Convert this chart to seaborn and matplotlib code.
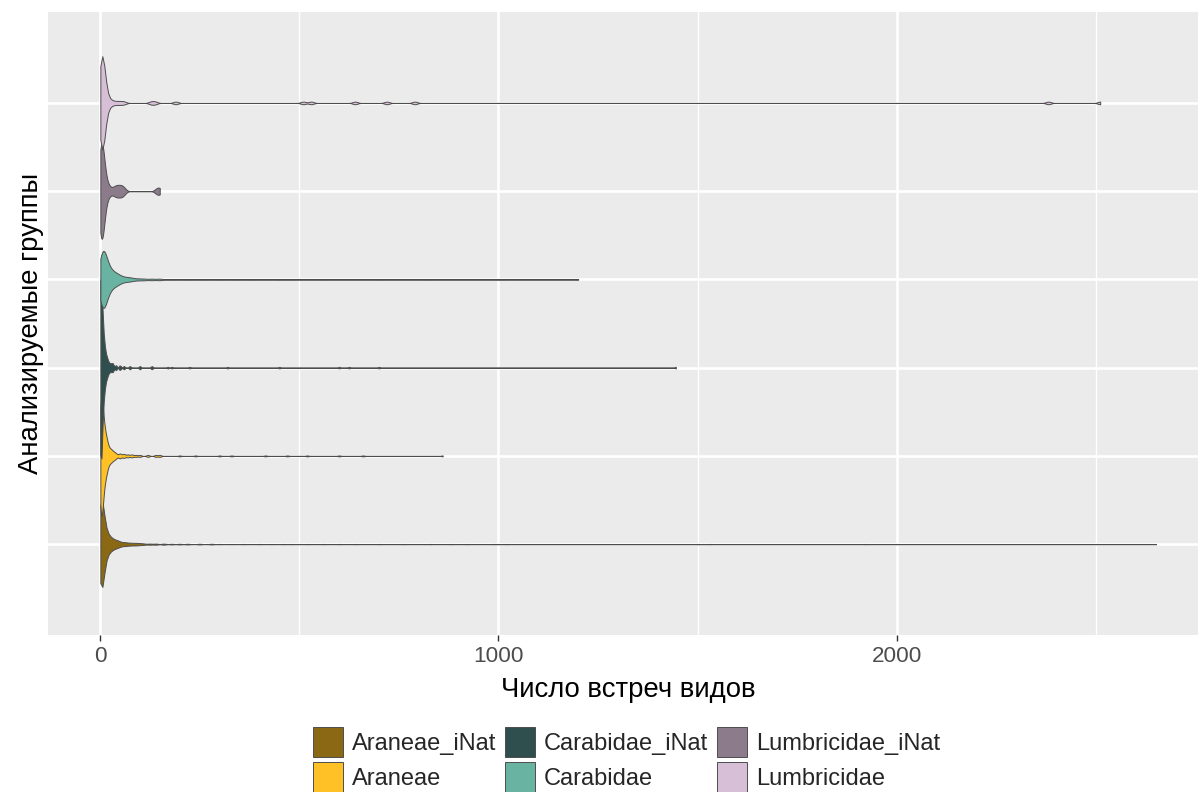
import numpy as np
import pandas as pd
import seaborn as sns
import matplotlib.pyplot as plt
from matplotlib.patches import Patch

# groups in ggplot level order (first one drawn at the bottom)
groups = ["Araneae_iNat", "Araneae", "Carabidae_iNat", "Carabidae",
          "Lumbricidae_iNat", "Lumbricidae"]
colors = ["#8B6914", "#FFC125", "#2F4F4F", "#69B3A2", "#8B7B8B", "#D8BFD8"]

# number of records per species (value) and how many species have it (freq)
araneae_inat_vals = [1, 2, 3, 4, 5, 6, 7, 8, 9, 10, 12, 15, 18, 22, 26, 30, 35, 40, 45, 50,
                     60, 70, 80, 90, 100, 110, 125, 140, 160, 180, 200, 220, 250, 280,
                     300, 330, 360, 400, 430, 460, 480, 520, 560, 600, 640, 700, 760, 830,
                     880, 920, 990, 1020, 1500, 1530, 1920, 2650]
araneae_inat_freq = [60, 40, 30, 25, 20, 18, 15, 14, 12, 12, 20, 18, 15, 14, 12, 10, 10, 8, 7, 7,
                     8, 6, 5, 5, 4, 3, 3, 3, 3, 2, 2, 2, 2, 2,
                     1, 1, 1, 1, 1, 1, 1, 1, 1, 1, 1, 1, 1, 1, 1, 1, 1, 1, 1, 1, 1, 1]

araneae_vals = [1, 2, 3, 4, 5, 6, 7, 8, 9, 10, 12, 14, 16, 18, 20, 25, 30, 35, 40, 50,
                60, 70, 80, 90, 100, 120, 140, 150,
                200, 240, 300, 330, 415, 470, 520, 600, 660, 860]
araneae_freq = [30, 24, 22, 18, 15, 13, 11, 10, 9, 8, 14, 11, 9, 8, 7, 10, 7, 5, 4, 5,
                4, 3, 3, 2, 2, 2, 2, 2,
                1, 1, 1, 1, 1, 1, 1, 1, 1, 1]

carabidae_inat_vals = [1, 2, 3, 4, 5, 6, 7, 8, 9, 10, 12, 14, 17, 20, 25, 30, 33, 40, 50, 60,
                       75, 100, 130, 170, 180, 225, 320, 450, 600, 625, 700, 1445]
carabidae_inat_freq = [50, 30, 22, 18, 14, 12, 10, 9, 8, 7, 10, 8, 7, 6, 5, 4, 3, 3, 3, 2,
                       2, 2, 2, 1, 1, 1, 1, 1, 1, 1, 1, 1]

carabidae_vals = [1, 2, 3, 4, 5, 6, 7, 8, 9, 10, 12, 15, 18, 22, 26, 30, 35, 40, 45, 50,
                  60, 70, 80, 95, 110, 130, 150,
                  180, 220, 260, 300, 340, 380, 450, 480, 560, 700, 820, 1010, 1200]
carabidae_freq = [5, 5, 6, 6, 6, 7, 7, 7, 7, 7, 10, 9, 8, 7, 6, 6, 5, 5, 4, 4,
                  4, 3, 3, 2, 2, 2, 2,
                  1, 1, 1, 1, 1, 1, 1, 1, 1, 1, 1, 1, 1]

lumbricidae_inat_vals = [1, 2, 3, 4, 5, 6, 8, 10, 12, 15, 20, 25, 35, 40, 45, 50, 55, 60, 143, 150]
lumbricidae_inat_freq = [3, 4, 4, 3, 3, 2, 2, 2, 2, 1, 1, 1, 1, 1, 1, 1, 1, 1, 1, 1]

lumbricidae_vals = [1, 2, 3, 4, 5, 6, 7, 8, 9, 10, 12, 14, 16, 20, 25, 30, 40, 50, 60,
                    128, 138, 190, 510, 530, 640, 720, 790, 2380, 2510]
lumbricidae_freq = [4, 4, 4, 4, 4, 4, 3, 3, 3, 3, 2, 2, 2, 1, 1, 1, 1, 1, 1,
                    1, 1, 1, 1, 1, 1, 1, 1, 1, 1]

series = {
    "Araneae_iNat": (araneae_inat_vals, araneae_inat_freq),
    "Araneae": (araneae_vals, araneae_freq),
    "Carabidae_iNat": (carabidae_inat_vals, carabidae_inat_freq),
    "Carabidae": (carabidae_vals, carabidae_freq),
    "Lumbricidae_iNat": (lumbricidae_inat_vals, lumbricidae_inat_freq),
    "Lumbricidae": (lumbricidae_vals, lumbricidae_freq),
}
df = pd.concat([pd.DataFrame({"group": g, "count": np.repeat(v, f)})
                for g, (v, f) in series.items()], ignore_index=True)


def nrd0(kde):
    # R's default bandwidth (bw.nrd0), returned as a factor of the sd
    x = kde.dataset.ravel()
    sd = x.std(ddof=1)
    q1, q3 = np.percentile(x, [25, 75])
    lo = min(sd, (q3 - q1) / 1.34)
    return 0.9 * lo * len(x) ** -0.2 / sd


sns.set_theme(style="white")
plt.rcParams["font.family"] = ["Liberation Sans", "DejaVu Sans"]

fig = plt.figure(figsize=(11.98, 7.92), dpi=100)
ax = fig.add_axes([0.0397, 0.1982, 0.9693, 0.7866])

sns.violinplot(data=df, x="count", y="group", hue="group", order=groups,
               hue_order=groups, palette=dict(zip(groups, colors)), orient="h",
               cut=0, density_norm="area", common_norm=True, bw_method=nrd0,
               gridsize=512, width=2.06, inner=None, saturation=1,
               linecolor="#4d4d4d", linewidth=0.7, legend=False, ax=ax)

ax.set_facecolor("#EBEBEB")
for s in ax.spines.values():
    s.set_visible(False)
ax.set_xlim(-131.5, 2782.5)
ax.set_ylim(-1.03, 6.03)
ax.set_xticks([0, 1000, 2000])
ax.set_xticks([500, 1500, 2500], minor=True)
ax.set_yticks(range(len(groups)), [""] * len(groups))
ax.set_axisbelow(True)
ax.grid(which="major", axis="both", color="white", linewidth=1.9)
ax.grid(which="minor", axis="x", color="white", linewidth=0.95)
ax.tick_params(axis="x", which="major", length=4, width=1, color="#333333",
               labelsize=16.2, labelcolor="#4D4D4D", pad=4, bottom=True)
ax.tick_params(axis="x", which="minor", length=0)
ax.tick_params(axis="y", length=0)

ax.set_xlabel("Число встреч видов", fontsize=19.8, color="black", labelpad=7)
ax.set_ylabel("Анализируемые группы", fontsize=19.8, color="black")
ax.yaxis.set_label_coords(-0.003, 0.5)

handles = [Patch(facecolor=c, edgecolor="#4d4d4d", linewidth=0.7) for c in colors]
fig.legend(handles, groups, ncol=3, loc="upper center",
           bbox_to_anchor=(0.523, 1 - 706 / 792), frameon=False, fontsize=17,
           handlelength=1.27, handleheight=1.58, handletextpad=0.38,
           columnspacing=0.38, labelspacing=0.21, borderpad=0.4)

fig.savefig("out.png", dpi=100)
